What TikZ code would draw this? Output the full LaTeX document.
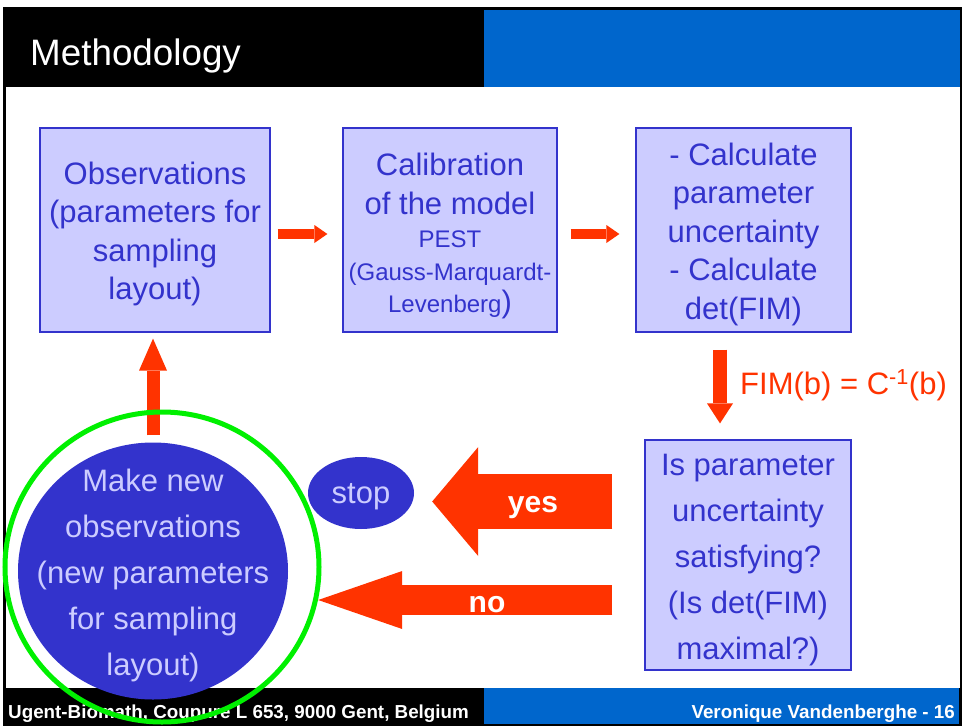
\documentclass[tikz,border=0pt]{standalone}
\usepackage{fontspec}
\setmainfont{Liberation Sans}
\usetikzlibrary{arrows.meta,shapes.geometric}

\definecolor{hdrblue}{HTML}{0066CC}
\definecolor{lav}{HTML}{CCCCFF}
\definecolor{ink}{HTML}{3333CC}
\definecolor{flame}{HTML}{FF3300}
\definecolor{ringgreen}{HTML}{00F000}

\tikzset{
  stepbox/.style={rectangle, draw=ink, line width=1.2pt, fill=lav, inner sep=0pt},
  boxtext/.style={text=ink, align=center, inner sep=0pt, font=\fontsize{31}{38.5}\selectfont},
  blob/.style={ellipse, fill=ink, inner sep=0pt},
  blobtext/.style={text=lav, align=center, inner sep=0pt, font=\fontsize{31}{46}\selectfont},
  smallarrow/.style={flame, line width=10pt,
    -{Triangle[width=18pt,length=13pt,line width=0pt]}},
  answer/.style={text=white, anchor=base, inner sep=0pt,
    font=\fontsize{30}{36}\selectfont\bfseries},
  slidetext/.style={text=white, inner sep=0pt, font=\fontsize{18.8}{22}\selectfont\bfseries},
}

\begin{document}
\begin{tikzpicture}[x=1pt,y=-1pt]
  \useasboundingbox (0,0) rectangle (964,726);
  \fill[white] (0,0) rectangle (964,726);

  % slide frame, header and footer bands
  \fill[black] (3,7) rectangle (962,726);
  \fill[white] (5.5,87) rectangle (960,688);
  \fill[hdrblue] (484,10) rectangle (960,87);
  \fill[hdrblue] (484,688) rectangle (959,724);
  \node[text=white, anchor=base west, inner sep=0pt, font=\fontsize{36.8}{40}\selectfont]
    (title) at (30,65) {Methodology};
  \node[slidetext, anchor=base west] (foot1) at (8,718)
    {Ugent-Biomath, Coupure L 653, 9000 Gent, Belgium};
  \node[slidetext, anchor=base east] (foot2) at (955,718)
    {Veronique Vandenberghe - 16};

  % process steps
  \node[stepbox, minimum width=230pt, minimum height=204pt,
    label={[boxtext, yshift=-4pt]center:{Observations\\(parameters for\\sampling\\layout)}}]
    (obs) at (155,230) {};
  \node[stepbox, minimum width=214pt, minimum height=204pt,
    label={[boxtext, yshift=-6pt]center:{Calibration\\of the model\\[-5.5pt]{\fontsize{24}{29}\selectfont PEST}\\[-5.5pt]
     {\fontsize{24}{29}\selectfont (Gauss-Marquardt-}\\[-6pt]
     {\fontsize{24}{29}\selectfont Levenberg})}}]
    (calib) at (450,230) {};
  \node[stepbox, minimum width=215pt, minimum height=204pt,
    label={[boxtext, yshift=-4pt]center:{- Calculate\\parameter\\uncertainty\\- Calculate\\det(FIM)}}]
    (uncert) at (743.5,230) {};
  \node[stepbox, minimum width=206pt, minimum height=230pt,
    label={[boxtext, font=\fontsize{31}{46}\selectfont, yshift=-5pt]center:{Is parameter\\uncertainty\\satisfying?\\(Is det(FIM)\\maximal?)}}]
    (check) at (748,555) {};

  % outcomes
  \node[blob, minimum width=270pt, minimum height=257pt,
    label={[blobtext, yshift=-4pt]center:{Make new\\observations\\(new parameters\\for sampling\\layout)}}]
    (newobs) at (153,571) {};
  \node[blob, minimum width=106pt, minimum height=72pt,
    label={[blobtext, font=\fontsize{31}{38}\selectfont, yshift=-4pt]center:stop}]
    (stop) at (361,493) {};

  % flow between the steps
  \draw[smallarrow, shorten <=7pt, shorten >=15pt]
    ([yshift=-4pt]obs.east) -- ([yshift=-4pt]calib.west);
  \draw[smallarrow, shorten <=13pt, shorten >=16pt]
    ([yshift=-4pt]calib.east) -- ([yshift=-4pt]uncert.west);
  \draw[flame, line width=14pt, -{Triangle[width=26pt,length=20pt,line width=0pt]},
    shorten <=17pt, shorten >=16pt]
    ([xshift=-23.5pt]uncert.south) -- ([xshift=-28pt]check.north);
  \node[text=flame, anchor=base west, inner sep=0pt, font=\fontsize{31}{38}\selectfont] (fim)
    at (740,394) {FIM(b) = C\textsuperscript{-1}(b)};
  \draw[flame, line width=13pt, -{Triangle[width=28pt,length=32pt,line width=0pt]},
    shorten <=7pt, shorten >=6pt]
    (newobs.north) -- ([xshift=-2pt]obs.south);

  % decision outcomes
  \draw[flame, line width=55pt, -{Triangle[width=109pt,length=46pt,line width=0pt]},
    shorten <=32pt, shorten >=18pt]
    ([yshift=53.5pt]check.west) coordinate (yestail) -- (yestail -| stop.east);
  \node[answer] (yes) at (533,512) {yes};
  \draw[flame, line width=30pt, -{Triangle[width=58pt,length=84pt,line width=0pt]},
    shorten <=32pt, shorten >=30pt]
    ([yshift=-45pt]check.west) coordinate (notail) -- (notail -| newobs.east);
  \node[answer] (no) at (487,612) {no};

  % highlight ring
  \draw[ringgreen, line width=5pt] (162,567) ellipse [x radius=157pt, y radius=155pt];
\end{tikzpicture}
\end{document}
